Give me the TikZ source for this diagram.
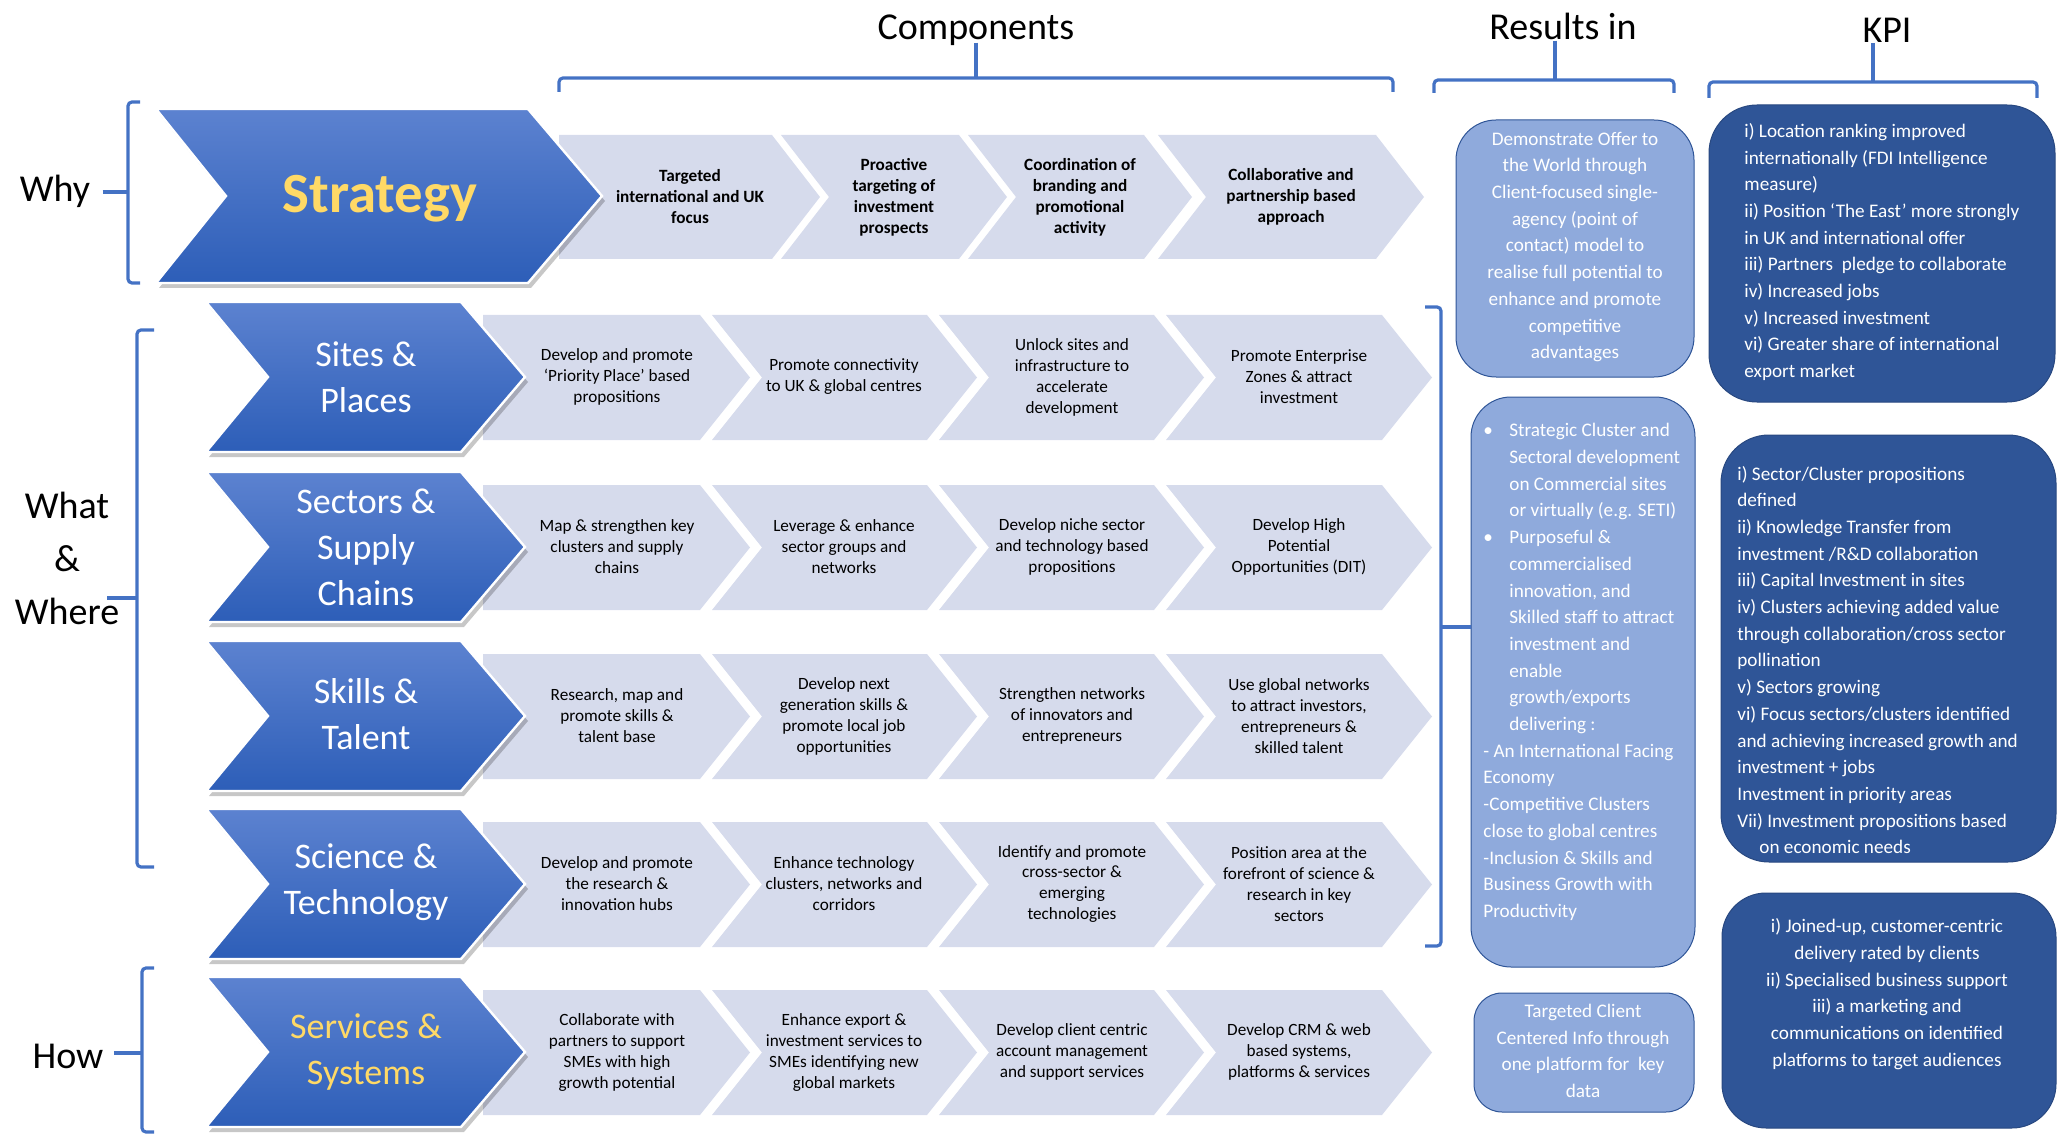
\documentclass[tikz,border=0pt]{standalone}
\usepackage{fontspec}
\setmainfont{Carlito}
\usetikzlibrary{positioning}

\definecolor{brkblue}{RGB}{68,114,196}
\definecolor{chevtop}{RGB}{92,130,208}
\definecolor{chevbot}{RGB}{45,94,184}
\definecolor{complight}{RGB}{214,219,236}
\definecolor{resblue}{RGB}{143,170,220}
\definecolor{kpiblue}{RGB}{47,85,151}
\definecolor{stratyellow}{RGB}{255,217,102}

\tikzset{
  brk/.style={draw=brkblue, line width=1.6pt, rounded corners=2pt},
  compbox/.style={fill=complight},
  bluechev/.style={top color=chevtop, bottom color=chevbot, draw=white, line width=1.2pt},
  chevshadow/.style={fill=black, opacity=0.22, xshift=1.5pt, yshift=-2.5pt},
  resbox/.style={fill=resblue, draw=kpiblue, line width=0.5pt},
  kpibox/.style={fill=kpiblue, draw=kpiblue!85!black, line width=0.5pt},
  headtext/.style={font=\fontsize{19}{23}\selectfont, inner sep=0pt, anchor=base},
  comptext/.style={font=\fontsize{8.6}{10.5}\selectfont, align=center, inner sep=0pt},
  chevtext/.style={font=\fontsize{18}{23}\selectfont, text=white, align=center, inner sep=0pt},
  restext/.style={font=\fontsize{9.6}{13.35}\selectfont, text=white, inner sep=0pt},
}

% chevron: style, left, tip, top, bottom, tip depth, notch depth
\newcommand{\chevshape}[7]{%
  \path[#1] ({#2},{#4}) -- ({#3-(#6)},{#4}) -- ({#3},{((#4)+(#5))/2})
    -- ({#3-(#6)},{#5}) -- ({#2},{#5}) -- ({#2+(#7)},{((#4)+(#5))/2}) -- cycle;}

\begin{document}
\begin{tikzpicture}[x=0.5pt, y=-0.5pt]
  \useasboundingbox (0,0) rectangle (2062,1134);

  % component rows
  \chevshape{compbox}{559}{820}{135}{259}{48}{0}
  \foreach \lx/\rx in {781/1007, 968/1192, 1158/1424} {
    \chevshape{compbox}{\lx}{\rx}{135}{259}{48}{48}
  }
  \foreach \cy in {377,547,716,884,1052} {
    \chevshape{compbox}{483}{750}{\cy-62}{\cy+63}{50}{0}
    \foreach \lx/\rx in {712/977, 939/1204, 1166/1432} {
      \chevshape{compbox}{\lx}{\rx}{\cy-62}{\cy+63}{50}{50}
    }
  }

  % blue chevrons
  \chevshape{chevshadow}{156}{602}{109}{283}{74}{70}
  \chevshape{bluechev}{156}{602}{109}{283}{74}{70}
  \foreach \cy in {377,547,716,884,1052} {
    \chevshape{chevshadow}{206}{525}{\cy-75}{\cy+75}{64}{62}
    \chevshape{bluechev}{206}{525}{\cy-75}{\cy+75}{64}{62}
  }

  % result and KPI boxes
  \draw[resbox, rounded corners=20pt] (1456,120) rectangle (1694,377);
  \draw[resbox, rounded corners=20pt] (1471,397) rectangle (1695,967);
  \draw[resbox, rounded corners=14pt] (1474,993) rectangle (1694,1112);
  \draw[kpibox, rounded corners=24pt] (1709,105) rectangle (2055,402);
  \draw[kpibox, rounded corners=24pt] (1721,435) rectangle (2056,862);
  \draw[kpibox, rounded corners=22pt] (1722,893) rectangle (2056,1128);

  % headings
  \begin{scope}[every node/.style={headtext}]
    \node (comp) at (976,40) {Components};
    \node (resin) at (1563,40) {Results in};
    \node (kpi) at (1887,43) {KPI};
    \node (why) at (55,202) {Why};
    \node (how) at (68,1068) {How};
  \end{scope}
  \node[font=\fontsize{19}{26.5}\selectfont, align=center, inner sep=0pt] (what) at (67,558) {What\\\&\\Where};

  % brackets
  \coordinate (ctick) at (976,78);
  \coordinate (rtick) at (1555,80);
  \coordinate (ktick) at (1873,82);
  \draw[brk] (559,92) -- (559,78) -- (1393,78) -- (1393,92);
  \draw[brk] (comp.south) ++(0,-4) -- (ctick);
  \draw[brk] (1434,93) -- (1434,80) -- (1674,80) -- (1674,93);
  \draw[brk] (resin.south -| rtick) -- (rtick);
  \draw[brk] (1709,98) -- (1709,82) -- (2037,82) -- (2037,98);
  \draw[brk] (kpi.south -| ktick) -- (ktick);
  \coordinate (whyb) at (128,192);
  \draw[brk] (140,102) -- (128,102) -- (128,283) -- (140,283);
  \draw[brk, shorten <=6pt] (why.east |- whyb) -- (whyb);
  \coordinate (wwtick) at (107,598);
  \draw[brk] (154,330) -- (137,330) -- (137,867) -- (154,867);
  \draw[brk] (wwtick) -- (137,598);
  \coordinate (howb) at (142,1053);
  \draw[brk] (154,968) -- (142,968) -- (142,1132) -- (154,1132);
  \draw[brk, shorten <=5pt] (how.east |- howb) -- (howb);
  \coordinate (rowb) at (1441,627);
  \coordinate (resedge) at (1471,627);
  \draw[brk] (1425,307) -- (1441,307) -- (1441,946) -- (1425,946);
  \draw[brk] (rowb) -- (resedge);

  % chevron labels
  \node[font=\fontsize{28.4}{34}\bfseries, text=stratyellow, inner sep=0pt, anchor=base] (strat) at (380,213) {Strategy};
  \begin{scope}[every node/.style={chevtext}]
    \node (sites) at (366,377) {Sites \&\\Places};
    \node (sectors) at (366,547) {Sectors \&\\Supply\\Chains};
    \node (skills) at (366,714) {Skills \&\\Talent};
    \node (science) at (366,882) {Science \&\\Technology};
    \node[text=stratyellow] (services) at (366,1052) {Services \&\\Systems};
  \end{scope}

  % components
  \begin{scope}[every node/.style={comptext, font=\fontsize{8.6}{10.5}\selectfont\bfseries}]
    \node (s1) at (690,197) {Targeted\\international and UK\\focus};
    \node (s2) at (894,197) {Proactive\\targeting of\\investment\\prospects};
    \node (s3) at (1080,197) {Coordination of\\branding and\\promotional\\activity};
    \node (s4) at (1291,197) {Collaborative and\\partnership based\\approach};
  \end{scope}
  \begin{scope}[every node/.style={comptext}]
    \node (p1) at (617,377) {Develop and promote\\‘Priority Place’ based\\propositions};
    \node (p2) at (844,377) {Promote connectivity\\to UK \& global centres};
    \node (p3) at (1072,377) {Unlock sites and\\infrastructure to\\accelerate\\development};
    \node (p4) at (1299,377) {Promote Enterprise\\Zones \& attract\\investment};
    \node (c1) at (617,547) {Map \& strengthen key\\clusters and supply\\chains};
    \node (c2) at (844,547) {Leverage \& enhance\\sector groups and\\networks};
    \node (c3) at (1072,547) {Develop niche sector\\and technology based\\propositions};
    \node (c4) at (1299,547) {Develop High\\Potential\\Opportunities (DIT)};
    \node (t1) at (617,716) {Research, map and\\promote skills \&\\talent base};
    \node (t2) at (844,716) {Develop next\\generation skills \&\\promote local job\\opportunities};
    \node (t3) at (1072,716) {Strengthen networks\\of innovators and\\entrepreneurs};
    \node (t4) at (1299,716) {Use global networks\\to attract investors,\\entrepreneurs \&\\skilled talent};
    \node (g1) at (617,884) {Develop and promote\\the research \&\\innovation hubs};
    \node (g2) at (844,884) {Enhance technology\\clusters, networks and\\corridors};
    \node (g3) at (1072,884) {Identify and promote\\cross-sector \&\\emerging\\technologies};
    \node (g4) at (1299,884) {Position area at the\\forefront of science \&\\research in key\\sectors};
    \node (v1) at (617,1052) {Collaborate with\\partners to support\\SMEs with high\\growth potential};
    \node (v2) at (844,1052) {Enhance export \&\\investment services to\\SMEs identifying new\\global markets};
    \node (v3) at (1072,1052) {Develop client centric\\account management\\and support services};
    \node (v4) at (1299,1052) {Develop CRM \& web\\based systems,\\platforms \& services};
  \end{scope}

  % results and KPI texts
  \begin{scope}[every node/.style={restext}]
    \node[align=center] (res1) at (1575,247) {Demonstrate Offer to\\the World through\\Client-focused single-\\agency (point of\\contact) model to\\realise full potential to\\enhance and promote\\competitive\\advantages};
    \node[align=left, anchor=west] (res2) at (1483,672) {%
      \makebox[13pt][l]{•}Strategic Cluster and\\
      \hspace*{13pt}Sectoral development\\
      \hspace*{13pt}on Commercial sites\\
      \hspace*{13pt}or virtually (e.g. SETI)\\
      \makebox[13pt][l]{•}Purposeful \&\\
      \hspace*{13pt}commercialised\\
      \hspace*{13pt}innovation, and\\
      \hspace*{13pt}Skilled staff to attract\\
      \hspace*{13pt}investment and\\
      \hspace*{13pt}enable\\
      \hspace*{13pt}growth/exports\\
      \hspace*{13pt}delivering :\\
      - An International Facing\\
      Economy\\
      -Competitive Clusters\\
      close to global centres\\
      -Inclusion \& Skills and\\
      Business Growth with\\
      Productivity};
    \node[align=center] (res3) at (1583,1051) {Targeted Client\\Centered Info through\\one platform for\ \ key\\data};
    \node[align=left, anchor=west] (kpi1) at (1744,252) {i) Location ranking improved\\internationally (FDI Intelligence\\measure)\\ii) Position ‘The East’ more strongly\\in UK and international offer\\iii) Partners\ \ pledge to collaborate\\iv) Increased jobs\\v) Increased investment\\vi) Greater share of international\\export market};
    \node[align=left, anchor=west] (kpi2) at (1737,660) {i) Sector/Cluster propositions\\defined\\ii) Knowledge Transfer from\\investment /R\&D collaboration\\iii) Capital Investment in sites\\iv) Clusters achieving added value\\through collaboration/cross sector\\pollination\\v) Sectors growing\\vi) Focus sectors/clusters identified\\and achieving increased growth and\\investment + jobs\\Investment in priority areas\\Vii) Investment propositions based\\\hspace*{11pt}on economic needs};
    \node[align=center] (kpi3) at (1887,994) {i) Joined-up, customer-centric\\delivery rated by clients\\ii) Specialised business support\\iii) a marketing and\\communications on identified\\platforms to target audiences};
  \end{scope}
\end{tikzpicture}
\end{document}
